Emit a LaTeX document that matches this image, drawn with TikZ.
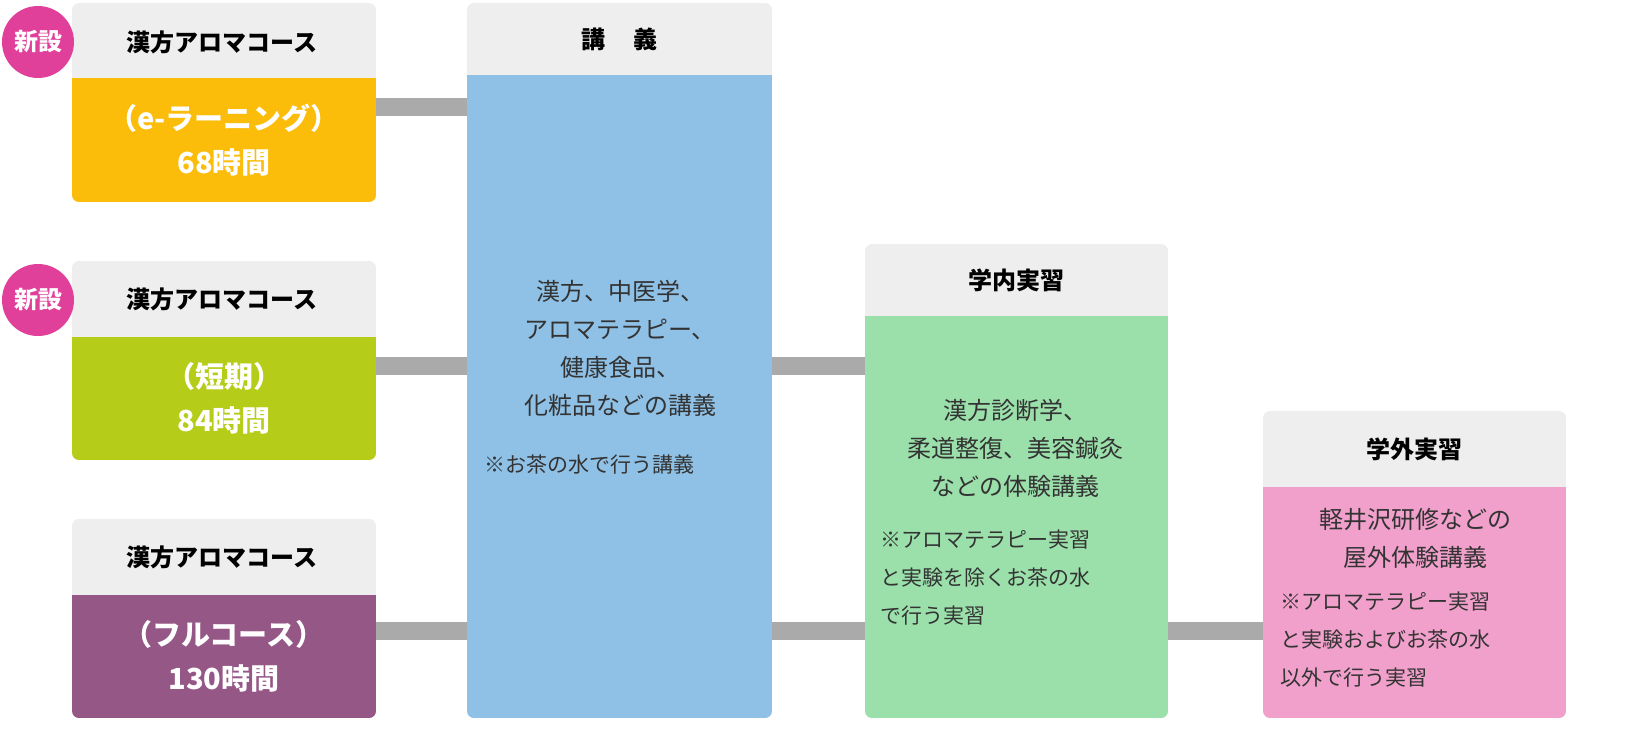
\documentclass[tikz,border=0pt]{standalone}
\usepackage{fontspec}
\setmainfont{Noto Sans CJK JP}
\usetikzlibrary{positioning}
\definecolor{headgray}{HTML}{EEEEEE}
\definecolor{barygray}{HTML}{AAAAAA}
\definecolor{ecolor}{HTML}{FBBC0A}
\definecolor{scolor}{HTML}{B5CC19}
\definecolor{fcolor}{HTML}{955786}
\definecolor{lcolor}{HTML}{8FC1E6}
\definecolor{icolor}{HTML}{9BE0AB}
\definecolor{ocolor}{HTML}{F0A0CB}
\definecolor{badge}{HTML}{E0409A}
\definecolor{ink}{HTML}{333333}

% name, x1, y1, y of header bottom, x2, y2, colour
\newcommand\panel[7]{%
\begin{scope}
\clip[rounded corners=7] (#2,#3) rectangle (#5,#6);
\fill[headgray] (#2,#3) rectangle (#5,#4);
\fill[#7] (#2,#4) rectangle (#5,#6);
\end{scope}
\coordinate (#1-head) at ({(#2+#5)/2},{(#3+#4)/2});
\coordinate (#1-body) at ({(#2+#5)/2},{(#4+#6)/2});
\coordinate (#1-w) at (#2,#4);
\coordinate (#1-e) at (#5,#4);}

\tikzset{
  headtxt/.style={font=\fontsize{24}{28}\selectfont\bfseries, text=black},
  bodytxt/.style={font=\fontsize{29}{44}\selectfont\bfseries, text=white, align=center},
  maintxt/.style={font=\fontsize{24}{38}\selectfont, text=ink, align=center},
  notetxt/.style={font=\fontsize{21}{38}\selectfont, text=ink, align=left, anchor=north west, inner sep=0},
  bar/.style={barygray, line width=18},
  newmark/.style={circle, fill=badge, minimum size=72, inner sep=0, text=white,
    font=\fontsize{24}{28}\selectfont\bfseries}
}

\begin{document}
\begin{tikzpicture}[x=1pt,y=-1pt]
\useasboundingbox (0,0) rectangle (1640,752);
\fill[white] (0,0) rectangle (1640,752);

\panel{ecourse}{72}{3}{78}{376}{202}{ecolor}
\panel{scourse}{72}{261}{337}{376}{460}{scolor}
\panel{fcourse}{72}{519}{595}{376}{718}{fcolor}
\panel{lecture}{467}{3}{75}{772}{718}{lcolor}
\panel{inside}{865}{244}{316}{1168}{718}{icolor}
\panel{outside}{1263}{411}{487}{1566}{718}{ocolor}

% connectors
\draw[bar] (ecourse-e |- 0,107) -- (lecture-w |- 0,107);
\draw[bar] (scourse-e |- 0,366) -- (lecture-w |- 0,366);
\draw[bar] (fcourse-e |- 0,631) -- (lecture-w |- 0,631);
\draw[bar] (lecture-e |- 0,366) -- (inside-w |- 0,366);
\draw[bar] (lecture-e |- 0,631) -- (inside-w |- 0,631);
\draw[bar] (inside-e |- 0,631) -- (outside-w |- 0,631);

% badges
\node[newmark] (new1) at (38,42) {新設};
\node[newmark] (new2) at (38,300) {新設};

% courses
\node[headtxt] (eh) at (222,42) {漢方アロマコース};
\node[bodytxt] (eb) at (ecourse-body) {（e-ラーニング）\\68時間};
\node[headtxt] (sh) at (222,299) {漢方アロマコース};
\node[bodytxt] (sb) at (scourse-body) {（短期）\\84時間};
\node[headtxt] (fh) at (222,557) {漢方アロマコース};
\node[bodytxt] (fb) at (fcourse-body) {（フルコース）\\130時間};

% lecture
\node[headtxt] (lh) at (lecture-head) {講\hspace{1.2em}義};
\node[maintxt] (lb) at (620,348) {漢方、中医学、\\アロマテラピー、\\健康食品、\\化粧品などの講義};
\node[notetxt] (ln) at (484,455) {※お茶の水で行う講義};

% inside practice
\node[headtxt] (ih) at (inside-head) {学内実習};
\node[maintxt] (ib) at (1015,448) {漢方診断学、\\柔道整復、美容鍼灸\\などの体験講義};
\node[notetxt] (in) at (880,530) {※アロマテラピー実習\\と実験を除くお茶の水\\で行う実習};

% outside practice
\node[headtxt] (oh) at (outside-head) {学外実習};
\node[maintxt] (ob) at (1415,538) {軽井沢研修などの\\屋外体験講義};
\node[notetxt] (on) at (1280,592) {※アロマテラピー実習\\と実験およびお茶の水\\以外で行う実習};
\end{tikzpicture}
\end{document}
